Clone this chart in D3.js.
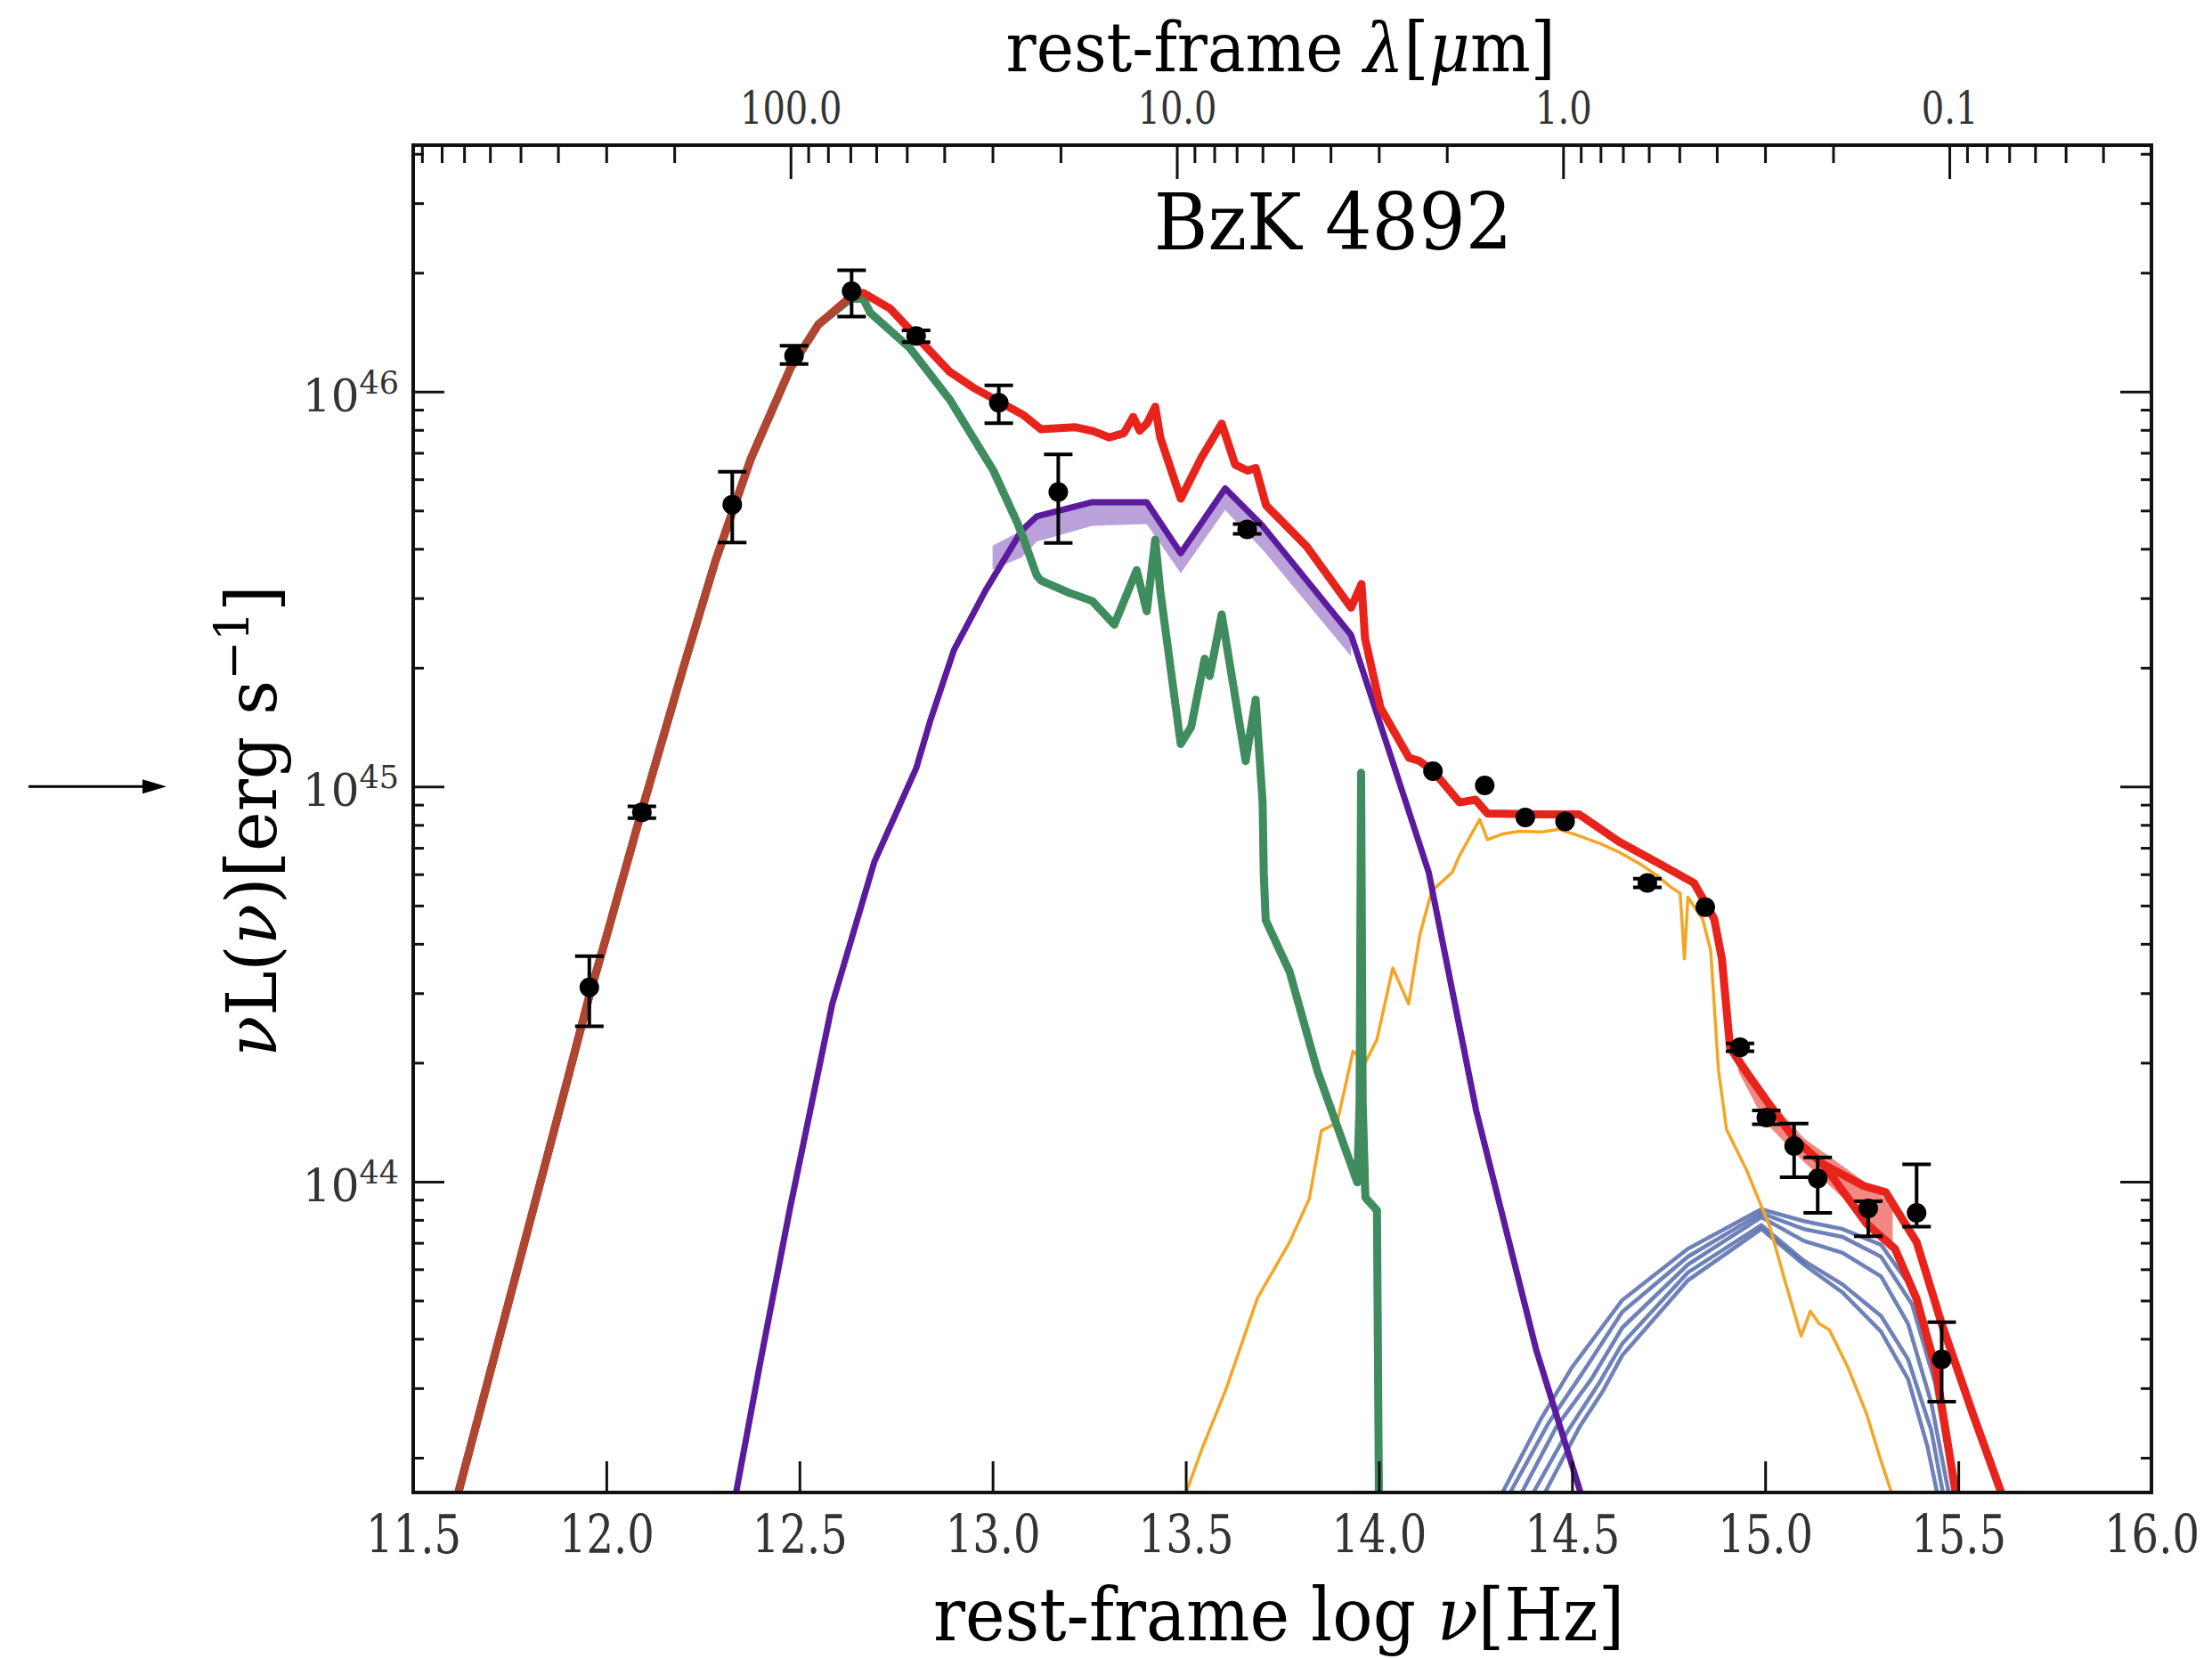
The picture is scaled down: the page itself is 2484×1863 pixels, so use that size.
<!DOCTYPE html>
<html lang="en">
<head>
  <meta charset="UTF-8" />
  <title>BzK 4892 SED</title>
  <script src="https://d3js.org/d3.v7.min.js"></script>
  <style>
    body {
      margin: 0;
      padding: 0;
      background: #ffffff;
    }
    svg text {
      font-family: "DejaVu Serif", "Liberation Serif", serif;
    }
  </style>
</head>
<body>

<div id="chart"></div>

<script>
  // ---- data: [log nu (Hz), log nuL(nu) (erg/s)] ----

  // total model (red)
  const totalModel = [
    [11.617, 43.213], [11.70, 43.52], [11.80, 43.89], [11.90, 44.26], [11.956, 44.47],
    [12.00, 44.62], [12.092, 44.94], [12.199, 45.30], [12.282, 45.57], [12.374, 45.83],
    [12.477, 46.06], [12.549, 46.17], [12.632, 46.24], [12.665, 46.25], [12.735, 46.21],
    [12.802, 46.14], [12.889, 46.05], [12.95, 46.01], [13.016, 45.975], [13.081, 45.94],
    [13.125, 45.905], [13.213, 45.91], [13.26, 45.90], [13.302, 45.884], [13.34, 45.895],
    [13.364, 45.936], [13.381, 45.901], [13.40, 45.92], [13.421, 45.962], [13.434, 45.884],
    [13.487, 45.729], [13.540, 45.832], [13.593, 45.919], [13.628, 45.815], [13.660, 45.80],
    [13.681, 45.807], [13.708, 45.712], [13.813, 45.608], [13.928, 45.453], [13.955, 45.513],
    [13.964, 45.376], [14.004, 45.20], [14.078, 45.073], [14.105, 45.065], [14.140, 45.04],
    [14.209, 44.96], [14.250, 44.967], [14.281, 44.932], [14.415, 44.93], [14.518, 44.93],
    [14.621, 44.861], [14.724, 44.806], [14.816, 44.756], [14.868, 44.665], [14.888, 44.564],
    [14.909, 44.34], [14.935, 44.30], [15.012, 44.194], [15.077, 44.107], [15.150, 44.044],
    [15.263, 43.893], [15.336, 43.830], [15.392, 43.703], [15.441, 43.529], [15.493, 43.213]
  ];
  // second total-model branch in the UV
  const totalModelAlt = [
    [15.150, 44.044], [15.255, 43.989], [15.312, 43.973], [15.392, 43.847],
    [15.457, 43.640], [15.538, 43.411], [15.611, 43.213]
  ];
  // spread of the total model in the UV
  const totalBandNu = [14.93, 15.00, 15.10, 15.20, 15.27, 15.33];
  const totalBandHi = [44.33, 44.22, 44.11, 44.04, 43.99, 43.94];
  const totalBandLo = [44.28, 44.15, 44.05, 43.96, 43.89, 43.83];

  // starburst (green)
  const starburst = [
    [11.617, 43.213], [11.70, 43.52], [11.80, 43.89], [11.90, 44.26], [11.956, 44.47],
    [12.00, 44.62], [12.092, 44.94], [12.199, 45.30], [12.282, 45.57], [12.374, 45.83],
    [12.477, 46.06], [12.549, 46.17], [12.632, 46.235], [12.665, 46.235], [12.683, 46.20],
    [12.786, 46.11], [12.889, 45.98], [13.002, 45.80], [13.064, 45.668], [13.081, 45.625],
    [13.114, 45.535], [13.125, 45.522], [13.20, 45.49], [13.258, 45.470], [13.315, 45.410],
    [13.373, 45.548], [13.399, 45.444], [13.421, 45.625], [13.434, 45.496], [13.487, 45.108],
    [13.514, 45.151], [13.549, 45.324], [13.562, 45.280], [13.593, 45.436], [13.655, 45.065],
    [13.681, 45.220], [13.699, 44.96], [13.702, 44.78], [13.707, 44.662], [13.769, 44.531],
    [13.841, 44.280], [13.944, 43.998], [13.950, 44.20], [13.954, 45.035], [13.958, 44.20],
    [13.965, 43.96], [13.995, 43.927], [14.000, 43.213]
  ];

  // AGN torus (purple)
  const torus = [
    [12.336, 43.213], [12.40, 43.55], [12.475, 43.93], [12.585, 44.45], [12.694, 44.81],
    [12.802, 45.046], [12.838, 45.165], [12.900, 45.346], [12.982, 45.497], [13.075, 45.648],
    [13.114, 45.684], [13.258, 45.720], [13.399, 45.720], [13.487, 45.591], [13.602, 45.755],
    [13.699, 45.660], [13.928, 45.384], [14.069, 44.963], [14.129, 44.783], [14.252, 44.179],
    [14.407, 43.575], [14.522, 43.213]
  ];
  const torusBandNu = [13.00, 13.075, 13.114, 13.258, 13.399, 13.487, 13.602, 13.699, 13.928];
  const torusBandHi = [45.61, 45.648, 45.684, 45.72, 45.72, 45.591, 45.755, 45.66, 45.384];
  const torusBandLo = [45.55, 45.58, 45.62, 45.66, 45.665, 45.54, 45.70, 45.60, 45.33];

  // stellar emission (orange)
  const stellar = [
    [13.501, 43.213], [13.542, 43.323], [13.604, 43.474], [13.686, 43.706], [13.769, 43.847],
    [13.820, 43.957], [13.851, 44.129], [13.892, 44.149], [13.933, 44.330], [13.964, 44.300],
    [13.995, 44.360], [14.036, 44.541], [14.077, 44.450], [14.106, 44.625], [14.137, 44.736],
    [14.190, 44.783], [14.209, 44.826], [14.261, 44.917], [14.281, 44.866], [14.320, 44.88],
    [14.364, 44.887], [14.420, 44.885], [14.467, 44.892], [14.520, 44.875], [14.570, 44.857],
    [14.620, 44.835], [14.673, 44.806], [14.720, 44.775], [14.755, 44.746], [14.780, 44.73],
    [14.791, 44.564], [14.800, 44.72], [14.838, 44.665], [14.859, 44.585], [14.879, 44.283],
    [14.900, 44.132], [14.951, 44.031], [15.012, 43.886], [15.053, 43.743], [15.093, 43.609],
    [15.117, 43.672], [15.140, 43.64], [15.166, 43.625], [15.214, 43.530], [15.263, 43.411],
    [15.295, 43.308], [15.327, 43.213]
  ];

  // big blue bump realizations (blue)
  const bbbRealizations = [
    [[14.32, 43.213], [14.42, 43.40], [14.50, 43.53], [14.63, 43.70], [14.80, 43.83], [14.99, 43.93],
     [15.10, 43.90], [15.20, 43.88], [15.30, 43.84], [15.38, 43.73], [15.44, 43.54], [15.48, 43.31], [15.50, 43.213]],
    [[14.34, 43.213], [14.44, 43.39], [14.53, 43.52], [14.63, 43.67], [14.80, 43.81], [14.99, 43.92],
     [15.10, 43.88], [15.20, 43.86], [15.30, 43.81], [15.38, 43.69], [15.44, 43.49], [15.49, 43.213]],
    [[14.37, 43.213], [14.46, 43.38], [14.55, 43.50], [14.63, 43.63], [14.80, 43.79], [14.99, 43.91],
     [15.10, 43.85], [15.20, 43.82], [15.30, 43.76], [15.37, 43.64], [15.43, 43.44], [15.475, 43.213]],
    [[14.40, 43.213], [14.49, 43.37], [14.57, 43.49], [14.63, 43.59], [14.80, 43.77], [14.99, 43.89],
     [15.10, 43.80], [15.20, 43.74], [15.30, 43.66], [15.37, 43.55], [15.43, 43.37], [15.46, 43.213]],
    [[14.43, 43.213], [14.52, 43.38], [14.58, 43.47], [14.63, 43.56], [14.80, 43.75], [14.99, 43.88],
     [15.10, 43.79], [15.20, 43.72], [15.30, 43.62], [15.37, 43.50], [15.42, 43.33], [15.445, 43.213]]
  ];

  // photometry with error bars (log nu, log L, lower, upper)
  const photLogNu = [11.956, 12.092, 12.326, 12.486, 12.635, 12.802, 13.016, 13.170, 13.659,
                     14.140, 14.274, 14.379, 14.482, 14.695, 14.845, 14.935, 15.003, 15.075,
                     15.136, 15.267, 15.392, 15.457];
  const photLogL  = [44.492, 44.935, 45.714, 46.091, 46.254, 46.141, 45.972, 45.746, 45.651,
                     45.039, 45.003, 44.922, 44.912, 44.756, 44.695, 44.340, 44.162, 44.090,
                     44.008, 43.932, 43.921, 43.550];
  const photErrLo = [44.393, 44.92, 45.618, 46.07, 46.19, 46.125, 45.920, 45.617, 45.64,
                     null, null, null, null, 44.745, null, 44.33, 44.145, 44.011,
                     43.921, 43.862, 43.886, 43.443];
  const photErrHi = [44.571, 44.95, 45.797, 46.116, 46.307, 46.155, 46.016, 45.841, 45.665,
                     null, null, null, null, 44.767, null, 44.35, 44.18, 44.147,
                     44.061, 43.95, 44.044, 43.644];

  // axes
  const nuTicks = [11.5, 12.0, 12.5, 13.0, 13.5, 14.0, 14.5, 15.0, 15.5, 16.0];
  const lumTicks = [1e44, 1e45, 1e46];
  const lumTickExp = ["44", "45", "46"];
  const lambdaTicks = [100, 10, 1, 0.1];
  const lambdaLabels = ["100.0", "10.0", "1.0", "0.1"];

  const title = "BzK 4892";

  // ---- layout ----
  const width = 2484;
  const height = 1863;
  const plot = { left: 464, right: 2416, top: 163, bottom: 1676 };
  const C_MICRON = 2.998e14;

  const svg = d3.select("#chart")
    .append("svg")
    .attr("width", width)
    .attr("height", height);

  const x = d3.scaleLinear()
    .domain([11.5, 16.0])
    .range([plot.left, plot.right]);

  const y = d3.scaleLog()
    .domain([Math.pow(10, 43.213), Math.pow(10, 46.624)])
    .range([plot.bottom, plot.top]);

  const lambda = d3.scaleLog()
    .domain([C_MICRON / Math.pow(10, 11.5), C_MICRON / Math.pow(10, 16.0)])
    .range([plot.left, plot.right]);

  svg.append("clipPath")
    .attr("id", "plotClip")
    .append("rect")
    .attr("x", plot.left)
    .attr("y", plot.top)
    .attr("width", plot.right - plot.left)
    .attr("height", plot.bottom - plot.top);

  const line = d3.line()
    .x(d => x(d[0]))
    .y(d => y(Math.pow(10, d[1])));

  function band(nu, lo, hi) {
    return d3.area()
      .x((d, i) => x(nu[i]))
      .y0((d, i) => y(Math.pow(10, lo[i])))
      .y1((d, i) => y(Math.pow(10, hi[i])))(nu);
  }

  const curves = svg.append("g").attr("clip-path", "url(#plotClip)");

  // blue bump
  bbbRealizations.forEach(r => {
    curves.append("path")
      .attr("d", line(r))
      .attr("fill", "none")
      .attr("stroke", "#4a61a6")
      .attr("stroke-opacity", 0.8)
      .attr("stroke-width", 4.5);
  });

  // stellar
  curves.append("path")
    .attr("d", line(stellar))
    .attr("fill", "none")
    .attr("stroke", "#f5a524")
    .attr("stroke-width", 3.5)
    .attr("stroke-linejoin", "round");

  // torus
  curves.append("path")
    .attr("d", band(torusBandNu, torusBandLo, torusBandHi))
    .attr("fill", "#a98ad0")
    .attr("opacity", 0.8);
  curves.append("path")
    .attr("d", line(torus))
    .attr("fill", "none")
    .attr("stroke", "#5a1b9c")
    .attr("stroke-width", 7)
    .attr("stroke-linejoin", "round");

  // starburst
  curves.append("path")
    .attr("d", line(starburst))
    .attr("fill", "none")
    .attr("stroke", "#3f8d5f")
    .attr("stroke-width", 9)
    .attr("stroke-linejoin", "round");

  // total
  curves.append("path")
    .attr("d", band(totalBandNu, totalBandLo, totalBandHi))
    .attr("fill", "#ee6b63")
    .attr("opacity", 0.8);
  [totalModel, totalModelAlt].forEach(t => {
    curves.append("path")
      .attr("d", line(t))
      .attr("fill", "none")
      .attr("stroke", "#e8231b")
      .attr("stroke-width", 9)
      .attr("stroke-linejoin", "round");
  });

  // starburst again, thin veil, so overlapping part turns brown
  curves.append("path")
    .attr("d", line(starburst))
    .attr("fill", "none")
    .attr("stroke", "#3f8d5f")
    .attr("stroke-opacity", 0.35)
    .attr("stroke-width", 8)
    .attr("stroke-linejoin", "round");

  // photometry
  const pts = svg.append("g");
  photLogNu.forEach((nu, i) => {
    const px = x(nu);
    if (photErrLo[i] !== null) {
      const y0 = y(Math.pow(10, photErrLo[i]));
      const y1 = y(Math.pow(10, photErrHi[i]));
      pts.append("line")
        .attr("x1", px).attr("x2", px)
        .attr("y1", y0).attr("y2", y1)
        .attr("stroke", "#000").attr("stroke-width", 4);
      [y0, y1].forEach(cy => {
        pts.append("line")
          .attr("x1", px - 16).attr("x2", px + 16)
          .attr("y1", cy).attr("y2", cy)
          .attr("stroke", "#000").attr("stroke-width", 4);
      });
    }
    pts.append("circle")
      .attr("cx", px)
      .attr("cy", y(Math.pow(10, photLogL[i])))
      .attr("r", 11)
      .attr("fill", "#000");
  });

  // ---- axes ----
  const axisColor = "#111";

  function styleAxis(g) {
    g.select(".domain").remove();
    g.selectAll(".tick line").attr("stroke", axisColor).attr("stroke-width", 3);
  }

  // bottom: log nu
  const bottomAxis = svg.append("g")
    .attr("transform", `translate(0,${plot.bottom})`)
    .call(d3.axisBottom(x).tickValues(nuTicks).tickSize(-35).tickFormat(d3.format(".1f")))
    .call(styleAxis);
  bottomAxis.selectAll("text")
    .attr("y", 68)
    .attr("dy", 0)
    .attr("font-size", 60)
    .attr("fill", "#333")
    .attr("transform", "scale(0.8,1)");

  // top: wavelength
  const lambdaMinor = lambda.ticks().filter(t => !lambdaTicks.some(m => Math.abs(m - t) / m < 1e-6));
  svg.append("g")
    .attr("transform", `translate(0,${plot.top})`)
    .call(d3.axisTop(lambda).tickValues(lambdaMinor).tickSize(-20).tickFormat(""))
    .call(styleAxis);
  const topAxis = svg.append("g")
    .attr("transform", `translate(0,${plot.top})`)
    .call(d3.axisTop(lambda).tickValues(lambdaTicks).tickSize(-38)
      .tickFormat((d, i) => lambdaLabels[i]))
    .call(styleAxis);
  topAxis.selectAll("text")
    .attr("y", -24)
    .attr("dy", 0)
    .attr("font-size", 50)
    .attr("fill", "#333")
    .attr("transform", "scale(0.8,1)");

  // left and right: luminosity
  const lumMinor = y.ticks().filter(t => !lumTicks.some(m => Math.abs(m - t) / m < 1e-6));
  [[d3.axisLeft, plot.left], [d3.axisRight, plot.right]].forEach(([axisFn, pos]) => {
    svg.append("g")
      .attr("transform", `translate(${pos},0)`)
      .call(axisFn(y).tickValues(lumMinor).tickSize(-12).tickFormat(""))
      .call(styleAxis);
    svg.append("g")
      .attr("transform", `translate(${pos},0)`)
      .call(axisFn(y).tickValues(lumTicks).tickSize(-35).tickFormat(""))
      .call(styleAxis);
  });

  lumTicks.forEach((v, i) => {
    const t = svg.append("text")
      .attr("x", plot.left - 16)
      .attr("y", y(v) + 22)
      .attr("text-anchor", "end")
      .attr("fill", "#333")
      .attr("font-size", 50);
    t.append("tspan").text("10");
    t.append("tspan")
      .attr("font-size", 35)
      .attr("dy", -20)
      .text(lumTickExp[i]);
  });

  // frame
  svg.append("rect")
    .attr("x", plot.left)
    .attr("y", plot.top)
    .attr("width", plot.right - plot.left)
    .attr("height", plot.bottom - plot.top)
    .attr("fill", "none")
    .attr("stroke", axisColor)
    .attr("stroke-width", 4);

  // ---- labels ----
  const xLabel = svg.append("text")
    .attr("transform", "translate(1436,1842) scale(0.92,1)")
    .attr("text-anchor", "middle")
    .attr("font-size", 82)
    .attr("fill", "#000");
  xLabel.append("tspan").text("rest-frame log ");
  xLabel.append("tspan").attr("font-style", "italic").text("ν");
  xLabel.append("tspan").text("[Hz]");

  const topLabel = svg.append("text")
    .attr("transform", "translate(1438,80) scale(0.94,1)")
    .attr("text-anchor", "middle")
    .attr("font-size", 76)
    .attr("fill", "#000");
  topLabel.append("tspan").text("rest-frame ");
  topLabel.append("tspan").attr("font-style", "italic").text("λ");
  topLabel.append("tspan").text("[");
  topLabel.append("tspan").attr("font-style", "italic").text("μ");
  topLabel.append("tspan").text("m]");

  const yLabel = svg.append("text")
    .attr("transform", "translate(310,922) rotate(-90) scale(0.97,1)")
    .attr("text-anchor", "middle")
    .attr("font-size", 78)
    .attr("fill", "#000");
  yLabel.append("tspan").attr("font-style", "italic").text("ν");
  yLabel.append("tspan").text("L(");
  yLabel.append("tspan").attr("font-style", "italic").text("ν");
  yLabel.append("tspan").text(")[erg s");
  yLabel.append("tspan").attr("font-size", 54).attr("dy", -30).text("−1");
  yLabel.append("tspan").attr("dy", 30).text("]");

  svg.append("text")
    .attr("transform", "translate(1497,280) scale(0.95,1)")
    .attr("text-anchor", "middle")
    .attr("font-size", 87)
    .attr("fill", "#000")
    .text(title);

  // arrow pointing at the 10^45 level
  const arrowY = y(1e45);
  svg.append("line")
    .attr("x1", 32).attr("x2", 168)
    .attr("y1", arrowY).attr("y2", arrowY)
    .attr("stroke", "#000")
    .attr("stroke-width", 3);
  svg.append("path")
    .attr("d", `M187,${arrowY} L160,${arrowY - 8} L160,${arrowY + 8} Z`)
    .attr("fill", "#000");
</script>
</body>
</html>
